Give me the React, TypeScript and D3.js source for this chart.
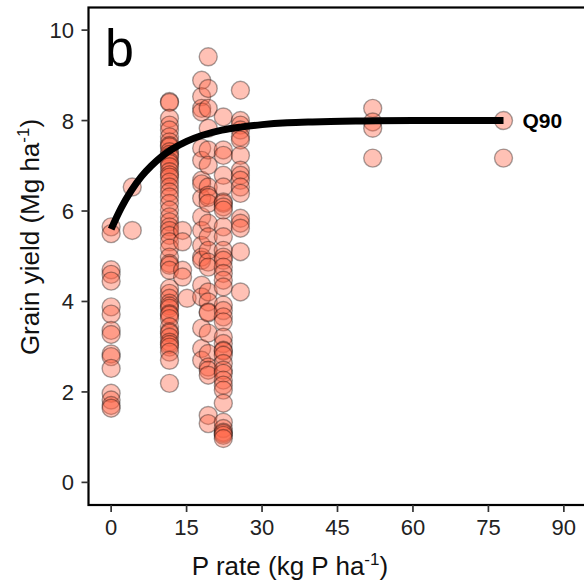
import * as d3 from 'd3'

// P rate levels (kg P/ha) and the grain yields observed at each one
const rateLevels = [0, 4.2, 11.6, 14.2, 15.1, 18, 19.3, 22.3, 25.7, 52, 78]

const rate0 = [5.65, 5.5, 4.7, 4.6, 4.45, 3.88, 3.72, 3.36, 3.27, 2.84, 2.78, 2.52, 1.97, 1.82, 1.7, 1.64]
const rate4 = [6.53, 5.57]
const rate11 = [8.42, 8.4, 8.05, 7.9, 7.79, 7.64, 7.53, 7.45, 7.42, 7.31, 7.25, 7.2, 7.09, 7.05, 6.98, 6.87,
  6.8, 6.75, 6.64, 6.53, 6.42, 6.31, 6.17, 6.02, 5.87, 5.76, 5.65, 5.57, 5.46, 5.32, 5.18, 4.98, 4.84, 4.8,
  4.69, 4.29, 4.18, 4.07, 3.96, 3.9, 3.85, 3.73, 3.7, 3.62, 3.44, 3.33, 3.3, 3.21, 3.1, 3.05, 2.99, 2.88, 2.7, 2.19]
const rate14 = [5.57, 5.32, 4.69, 4.54]
const rate15 = [4.07]
const rate18 = [8.89, 8.53, 8.27, 8.19, 7.39, 7.12, 6.68, 6.6, 6.28, 5.87, 5.57, 5.24, 4.98, 4.91, 4.36, 4.1,
  3.41, 2.96, 2.7]
const rate19 = [9.41, 8.71, 8.27, 7.83, 7.35, 7.01, 6.53, 6.35, 6.3, 6.17, 5.73, 5.43, 5.13, 4.87, 4.76, 4.21,
  3.99, 3.77, 3.75, 3.3, 2.85, 2.55, 2.48, 2.37, 1.48, 1.3]
const rate22 = [8.08, 7.35, 7.23, 6.79, 6.53, 6.2, 6.17, 6.09, 6.02, 5.65, 5.43, 5.13, 4.98, 4.91, 4.76, 4.62,
  4.47, 4.32, 3.92, 3.8, 3.66, 3.55, 3.21, 3.07, 2.92, 2.9, 2.81, 2.63, 2.48, 2.41, 2.26, 2.15, 2.04, 1.75,
  1.33, 1.19, 1.11, 1.08, 1.04, 0.97]
const rate26 = [8.67, 8.0, 7.9, 7.79, 7.64, 7.57, 7.23, 6.9, 6.79, 6.68, 6.53, 6.39, 5.84, 5.73, 5.62, 5.1, 4.21]
const rate52 = [8.27, 7.97, 7.83, 7.17]
const rate78 = [8.0, 7.17]

const yieldsByRate = [rate0, rate4, rate11, rate14, rate15, rate18, rate19, rate22, rate26, rate52, rate78]

// 90th percentile response curve
const curveRate = [0, 2, 4, 6, 8, 10, 12, 15, 18, 22, 26, 30, 35, 40, 50, 60, 78]
const curveYield = [5.6, 6.07, 6.45, 6.76, 7.0, 7.2, 7.36, 7.54, 7.67, 7.79, 7.86, 7.91, 7.95, 7.97, 7.99, 8.0, 8.0]

const xTicks = [0, 15, 30, 45, 60, 75, 90]
const yTicks = [0, 2, 4, 6, 8, 10]

const W = 584
const H = 583

export default function App() {
  const x = d3.scaleLinear().domain([-4.5, 94.5]).range([88.5, 586.5])
  const y = d3.scaleLinear().domain([-0.5, 10.5]).range([505, 7.5])

  const [panelL, panelR] = x.range()
  const [panelB, panelT] = y.range()

  const points = yieldsByRate.flatMap((ys, i) => ys.map(v => ({ rate: rateLevels[i], yield: v })))
  const curve = curveRate.map((r, i) => [r, curveYield[i]] as [number, number])
  const line = d3.line<[number, number]>()
    .x(d => x(d[0]))
    .y(d => y(d[1]))
    .curve(d3.curveMonotoneX)

  const font = '"Liberation Sans", Arial, sans-serif'

  return (
    <svg width={W} height={H} style={{ position: 'absolute', left: 0, top: 0, background: '#fff' }}
      fontFamily={font}>
      {/* points */}
      {points.map((d, i) => (
        <circle key={i} cx={x(d.rate)} cy={y(d.yield)} r={9}
          fill="tomato" fillOpacity={0.4} stroke="#000" strokeOpacity={0.35} strokeWidth={1.4} />
      ))}

      {/* fitted curve */}
      <path d={line(curve) ?? ''} fill="none" stroke="#000" strokeWidth={7} />
      <text x={x(78) + 19} y={y(8) + 7.5} fontSize={21} fontWeight="bold" fill="#000">Q90</text>

      {/* panel border */}
      <rect x={panelL} y={panelT} width={panelR - panelL} height={panelB - panelT}
        fill="none" stroke="#000" strokeWidth={2.2} />

      {/* panel letter */}
      <text x={105} y={66} fontSize={52} fill="#000">b</text>

      {/* x axis */}
      {xTicks.map(t => (
        <g key={t}>
          <line x1={x(t)} x2={x(t)} y1={panelB} y2={panelB + 7} stroke="#333" strokeWidth={1.7} />
          <text x={x(t)} y={535} textAnchor="middle" fontSize={22} fill="#222">{t}</text>
        </g>
      ))}
      <text x={290} y={575} textAnchor="middle" fontSize={26} fill="#111">
        P rate (kg P ha<tspan dy={-10} fontSize={17}>-1</tspan><tspan dy={10}>)</tspan>
      </text>

      {/* y axis */}
      {yTicks.map(t => (
        <g key={t}>
          <line x1={panelL - 7} x2={panelL} y1={y(t)} y2={y(t)} stroke="#333" strokeWidth={1.7} />
          <text x={74} y={y(t) + 8} textAnchor="end" fontSize={22} fill="#222">{t}</text>
        </g>
      ))}
      <text transform={`translate(39,237) rotate(-90)`} textAnchor="middle" fontSize={26} fill="#111">
        Grain yield (Mg ha<tspan dy={-10} fontSize={17}>-1</tspan><tspan dy={10}>)</tspan>
      </text>
    </svg>
  )
}
